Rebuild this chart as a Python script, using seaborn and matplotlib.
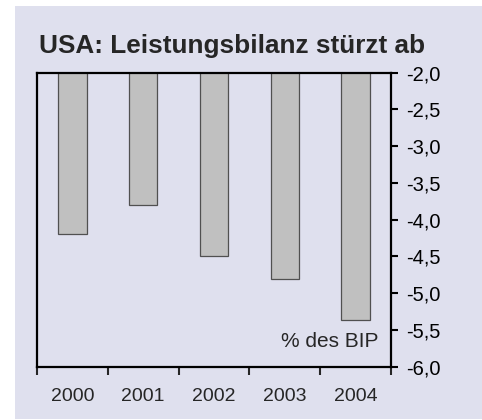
"""
plot.py

USA current account balance, bar chart in percent of GDP.
"""

import matplotlib
matplotlib.use('Agg')
import matplotlib.pyplot as plt
import matplotlib.patches as mpatches
import matplotlib.ticker as mticker
import pandas as pd
import seaborn as sns

#
#  Data
#

years = ['2000', '2001', '2002', '2003', '2004']
balance = [-4.2, -3.8, -4.5, -4.8, -5.36]
ytick_vals = [-2.0, -2.5, -3.0, -3.5, -4.0, -4.5, -5.0, -5.5, -6.0]

title = 'USA: Leistungsbilanz stürzt ab'
unit = '% des BIP'

bg = '#dfe0ee'
bar_fill = '#c0c0c0'

#
#  Set up the figure
#

sns.set_style('white')
plt.rcParams['font.family'] = ['Liberation Sans', 'DejaVu Sans']

fig = plt.figure(figsize=(4.82, 4.20), dpi=100)
fig.patch.set_facecolor('white')
fig.patches.append(mpatches.Rectangle((15/482, 1/420), 1 - 15/482, 413/420,
                                      transform=fig.transFigure,
                                      facecolor=bg, edgecolor='none', zorder=-1))

ax = fig.add_axes([37/482, 53.3/420, 354/482, 294/420])
ax.set_facecolor(bg)

df = pd.DataFrame({'year': years, 'balance': balance})

sns.barplot(data=df, x='year', y='balance', color=bar_fill, width=0.4,
            saturation=1, edgecolor='#505050', linewidth=0.9, ax=ax)

#
#  Axes styling
#

ax.set_ylim(-6, -2)
ax.set_xlim(-0.5, 4.5)

for s in ax.spines.values():
    s.set_visible(True)
    s.set_color('black')
    s.set_linewidth(1.6)

ax.yaxis.tick_right()
ax.set_yticks(ytick_vals)
ax.yaxis.set_major_formatter(
    mticker.FuncFormatter(lambda v, p: f'{v:.1f}'.replace('.', ',')))
ax.tick_params(axis='y', direction='out', length=5, width=1.5,
               pad=6, labelsize=14.5, colors='black', left=False)

ax.set_xticks([-0.5, 0.5, 1.5, 2.5, 3.5, 4.5])
ax.set_xticklabels([])
ax.set_xticks(range(len(years)), minor=True)
ax.set_xticklabels(years, minor=True)
ax.tick_params(axis='x', which='major', direction='out', length=6, width=1.5,
               bottom=True)
ax.tick_params(axis='x', which='minor', length=0, pad=15, labelsize=14)

ax.set_xlabel('')
ax.set_ylabel('')

ax.text(0.966, 0.068, unit, transform=ax.transAxes, ha='right', va='baseline',
        fontsize=15)

fig.text(39/482, 1 - 53.3/420, title, ha='left', va='baseline',
         fontsize=18.8, fontweight='bold')

fig.savefig('out.png', dpi=100)
